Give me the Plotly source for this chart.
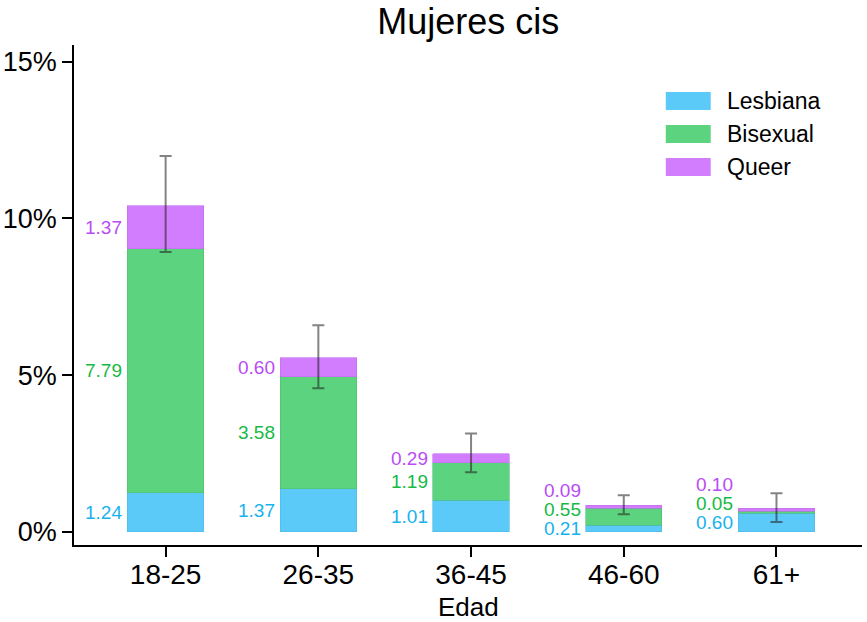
import plotly.graph_objects as go

categories = ["18-25", "26-35", "36-45", "46-60", "61+"]
lesbiana = [1.24, 1.37, 1.01, 0.21, 0.60]
bisexual = [7.79, 3.58, 1.19, 0.55, 0.05]
queer = [1.37, 0.60, 0.29, 0.09, 0.10]
err_low = [8.93, 4.58, 1.90, 0.56, 0.31]
err_high = [11.99, 6.59, 3.14, 1.17, 1.23]
y_ticks = [0, 5, 10, 15]
series_names = ["Lesbiana", "Bisexual", "Queer"]

fill_colors = ["#5BCAF8", "#5CD37F", "#D17DFD"]
line_colors = ["#4DB8E6", "#4CC070", "#C06CEC"]
text_colors = ["#17B2EE", "#16BA45", "#B94CF5"]
FONT = "Liberation Sans, Arial, Helvetica, sans-serif"

series = [lesbiana, bisexual, queer]
totals = [sum(v) for v in zip(*series)]

fig = go.Figure()
for name, vals, fc, lc in zip(series_names, series, fill_colors, line_colors):
    fig.add_trace(go.Bar(
        x=categories, y=vals, name=name, width=0.5,
        marker=dict(color=fc, line=dict(color=lc, width=0.6)),
        showlegend=False, hoverinfo="y"))

fig.add_trace(go.Scatter(
    x=categories, y=totals, mode="markers",
    marker=dict(size=0.1, color="rgba(0,0,0,0)"),
    error_y=dict(type="data", symmetric=False,
                 array=[h - t for h, t in zip(err_high, totals)],
                 arrayminus=[t - l for l, t in zip(err_low, totals)],
                 color="rgba(30,30,30,0.55)", thickness=2, width=6),
    showlegend=False, hoverinfo="skip"))

# value labels left of each bar, spaced so they do not overlap
min_gap = 0.6
annotations = []
for i, cat in enumerate(categories):
    base = 0.0
    prev = None
    for vals, tc in zip(series, text_colors):
        v = vals[i]
        mid = base + v / 2
        if prev is not None and mid - prev < min_gap:
            mid = prev + min_gap
        prev = mid
        base += v
        annotations.append(dict(
            x=i - 0.25, y=mid, xref="x", yref="y", text=f"{v:.2f}",
            showarrow=False, xanchor="right", yanchor="middle", xshift=-3,
            font=dict(family=FONT, size=19, color=tc)))

# manual legend (wide swatches)
shapes = []
leg_y = [0.888, 0.822, 0.756]
for name, fc, ly in zip(series_names, fill_colors, leg_y):
    shapes.append(dict(type="rect", xref="paper", yref="paper",
                       x0=0.751, x1=0.808, y0=ly - 0.018, y1=ly + 0.018,
                       fillcolor=fc, line=dict(width=0)))
    annotations.append(dict(x=0.826, y=ly, xref="paper", yref="paper",
                            text=name, showarrow=False, xanchor="left",
                            yanchor="middle",
                            font=dict(family=FONT, size=23, color="black")))

# x-axis title placed below the tick labels
annotations.append(dict(x=0.5, y=-0.124, xref="paper", yref="paper",
                        text="Edad", showarrow=False, xanchor="center",
                        yanchor="middle",
                        font=dict(family=FONT, size=26, color="black")))

fig.update_layout(
    width=867, height=622,
    barmode="stack",
    plot_bgcolor="white", paper_bgcolor="white",
    margin=dict(l=74, r=5, t=45, b=77),
    font=dict(family=FONT, color="black"),
    title=dict(text="Mujeres cis", x=0.54, xanchor="center", y=0.965,
               yanchor="middle", font=dict(family=FONT, size=36, color="black")),
    xaxis=dict(showline=True, linecolor="black", linewidth=1.5,
               ticks="outside", ticklen=10, tickcolor="black", tickwidth=1.5,
               tickfont=dict(size=28), range=[-0.6, 4.56], showgrid=False,
               zeroline=False, automargin=False, ticklabelstandoff=-6),
    yaxis=dict(range=[-0.42, 15.53], tickvals=y_ticks,
               ticktext=[f"{t}%" for t in y_ticks],
               showline=True, linecolor="black", linewidth=1.5,
               ticks="outside", ticklen=10, tickcolor="black", tickwidth=1.5,
               tickfont=dict(size=27), showgrid=False, zeroline=False,
               automargin=False),
    annotations=annotations,
    shapes=shapes,
)

fig.write_html("out.html",
               config={"displayModeBar": False},
               post_script="document.body.style.margin='0';")
